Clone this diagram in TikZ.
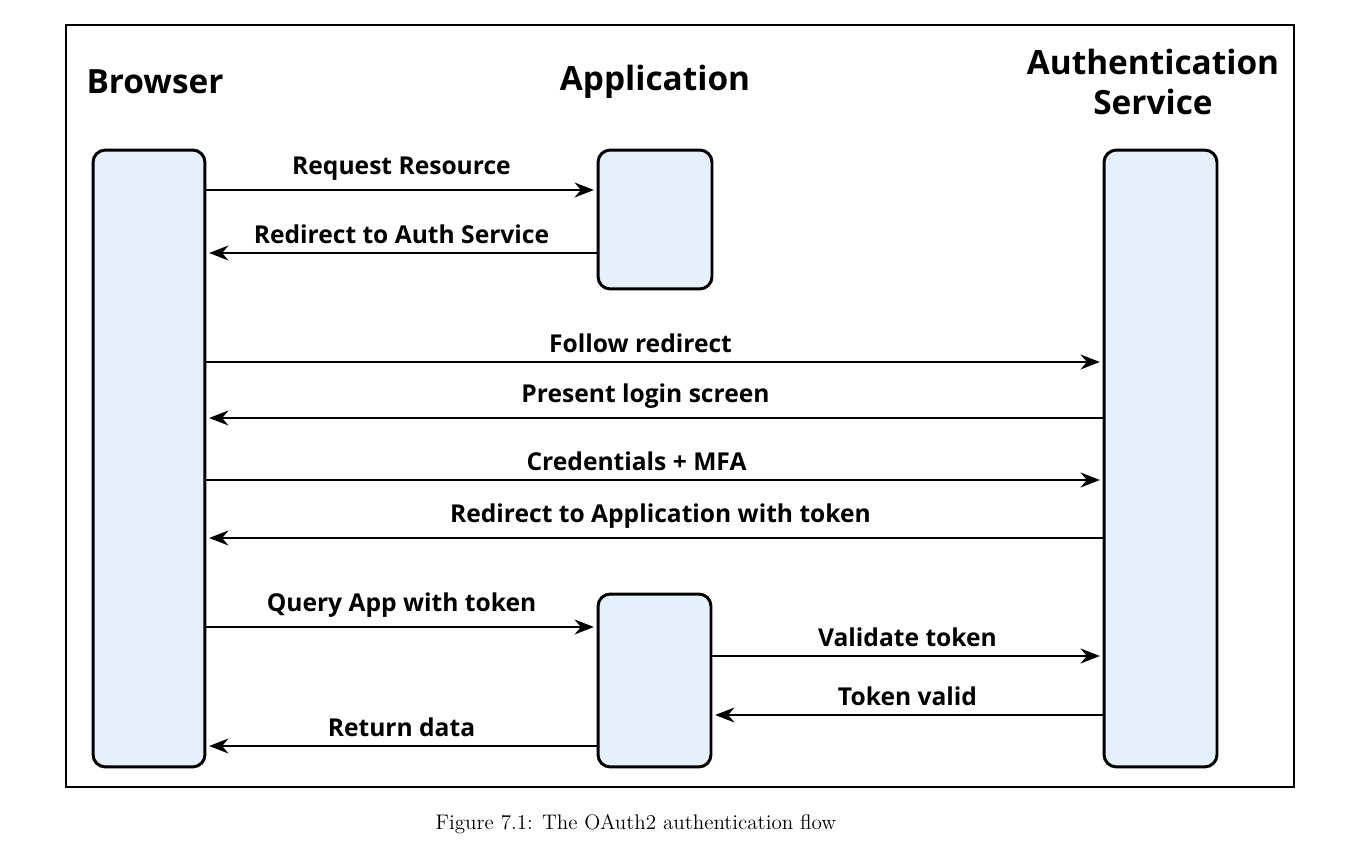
\documentclass[tikz,border=0pt]{standalone}
\usepackage{fontspec}
\newfontfamily\uifont{Open Sans}
\usepackage{xcolor}
\usepackage{tikz}
\usetikzlibrary{
  arrows.meta,
  positioning,
  calc,
}
\definecolor{lanefill}{RGB}{230,240,250}
\tikzset{
  lane/.style={
    draw,
    black,
    line width=1.7pt,
    fill=lanefill,
    rounded corners=7pt,
    inner sep=0pt
  },
  head/.style={
    font=\uifont\bfseries\fontsize{19}{23}\selectfont,
    align=center
  },
  msg/.style={
    line width=1.1pt,
    shorten >=1.5pt,
    -{Stealth[length=11pt,width=8.5pt]}
  },
  msg label/.style={
    font=\uifont\bfseries\fontsize{14}{17}\selectfont,
    above=1.5pt,
    midway
  }
}

\begin{document}
\begin{tikzpicture}[x=0.02cm, y=-0.02cm]
  \useasboundingbox (0,0) rectangle (1352,864);
  \draw[line width=0.8pt] (66,25) rectangle (1294,787);

  % headers
  \node[head] (hbrowser) at (155,82) {Browser};
  \node[head] (happ) at (655,82) {Application};
  \node[head] (hauth) at (1153,82) {Authentication\\Service};

  % lifeline boxes
  \node[lane, minimum width=2.24cm, minimum height=12.34cm] (browser) at (149,458.5) {};
  \node[lane, minimum width=2.28cm, minimum height=2.78cm] (app) at (655,219.5) {};
  \node[lane, minimum width=2.26cm, minimum height=3.46cm] (appq) at (654.5,680.5) {};
  \node[lane, minimum width=2.26cm, minimum height=12.34cm] (auth) at (1160.5,458.5) {};

  % message heights
  \coordinate (m1) at (0,190);
  \coordinate (m2) at (0,253);
  \coordinate (m3) at (0,362);
  \coordinate (m4) at (0,418);
  \coordinate (m5) at (0,480);
  \coordinate (m6) at (0,538);
  \coordinate (m7) at (0,627);
  \coordinate (m8) at (0,656);
  \coordinate (m9) at (0,715);
  \coordinate (m10) at (0,746);

  \draw[msg] (browser.east |- m1) -- node[msg label] {Request Resource} (app.west |- m1);
  \draw[msg] (app.west |- m2) -- node[msg label] {Redirect to Auth Service} (browser.east |- m2);
  \draw[msg] (browser.east |- m3) -- node[msg label, xshift=-0.28cm] {Follow redirect} (auth.west |- m3);
  \draw[msg] (auth.west |- m4) -- node[msg label, xshift=-0.18cm] {Present login screen} (browser.east |- m4);
  \draw[msg] (browser.east |- m5) -- node[msg label, xshift=-0.36cm] {Credentials + MFA} (auth.west |- m5);
  \draw[msg] (auth.west |- m6) -- node[msg label, xshift=0.12cm] {Redirect to Application with token} (browser.east |- m6);
  \draw[msg] (browser.east |- m7) -- node[msg label] {Query App with token} (appq.west |- m7);
  \draw[msg] (appq.east |- m8) -- node[msg label] {Validate token} (auth.west |- m8);
  \draw[msg] (auth.west |- m9) -- node[msg label] {Token valid} (appq.east |- m9);
  \draw[msg] (appq.west |- m10) -- node[msg label] {Return data} (browser.east |- m10);

  \node[font=\fontsize{12}{15}\selectfont] (caption) at (636,824) {Figure 7.1: The OAuth2 authentication flow};
\end{tikzpicture}
\end{document}
